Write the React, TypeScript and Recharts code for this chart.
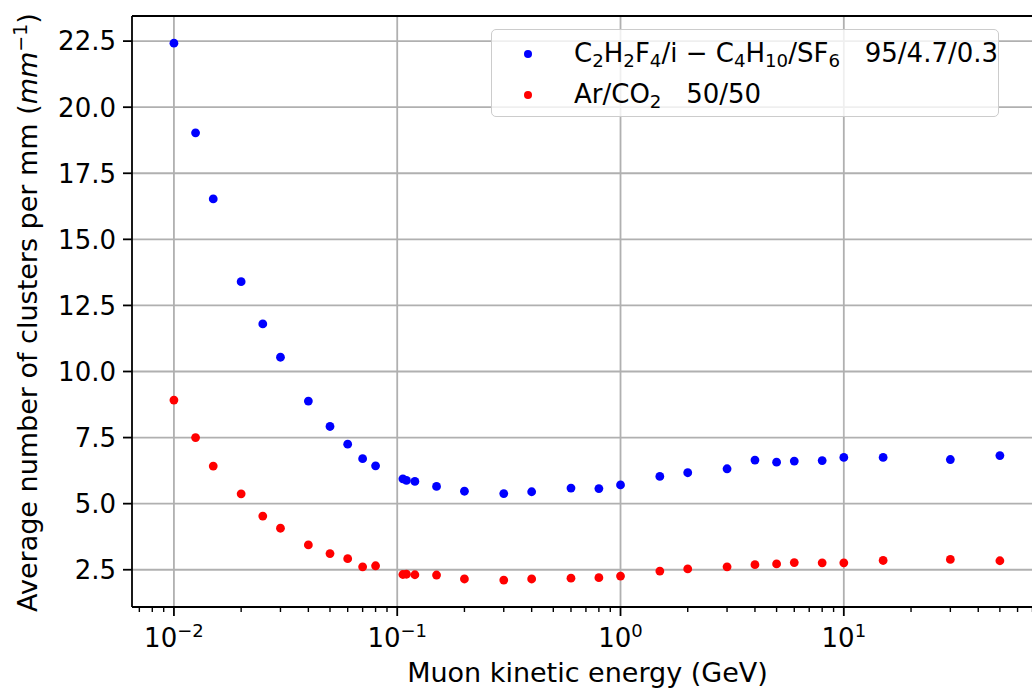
import React from "react";
import {
  ScatterChart,
  Scatter,
  XAxis,
  YAxis,
  ReferenceLine,
  Legend,
} from "recharts";

// Muon kinetic energy (GeV) of each simulated point
const ENERGY_GEV = [
  0.01, 0.0125, 0.015, 0.02, 0.025, 0.03, 0.04, 0.05, 0.06, 0.07, 0.08, 0.106,
  0.11, 0.12, 0.15, 0.2, 0.3, 0.4, 0.6, 0.8, 1, 1.5, 2, 3, 4, 5, 6, 8, 10, 15,
  30, 50,
];

// Average number of clusters per mm, C2H2F4/i-C4H10/SF6 95/4.7/0.3
const RPC_GAS_CLUSTERS = [
  22.42, 19.03, 16.53, 13.4, 11.8, 10.54, 8.88, 7.92, 7.25, 6.7, 6.43, 5.94,
  5.88, 5.84, 5.65, 5.47, 5.38, 5.45, 5.59, 5.57, 5.71, 6.03, 6.17, 6.32, 6.65,
  6.57, 6.61, 6.63, 6.75, 6.75, 6.67, 6.82,
];

// Average number of clusters per mm, Ar/CO2 50/50
const ARCO2_CLUSTERS = [
  8.92, 7.5, 6.42, 5.37, 4.53, 4.07, 3.44, 3.11, 2.92, 2.61, 2.65, 2.32, 2.33,
  2.31, 2.3, 2.15, 2.11, 2.15, 2.18, 2.2, 2.26, 2.45, 2.53, 2.61, 2.69, 2.72,
  2.77, 2.76, 2.76, 2.85, 2.89, 2.84,
];

const X_MAJOR_TICKS = [0.01, 0.1, 1, 10];
const X_MINOR_TICKS = [
  0.007, 0.008, 0.009, 0.02, 0.03, 0.04, 0.05, 0.06, 0.07, 0.08, 0.09, 0.2, 0.3,
  0.4, 0.5, 0.6, 0.7, 0.8, 0.9, 2, 3, 4, 5, 6, 7, 8, 9, 20, 30, 40, 50, 60, 70,
];
const Y_TICKS = [2.5, 5, 7.5, 10, 12.5, 15, 17.5, 20, 22.5];

const X_DOMAIN: [number, number] = [0.00649, 76.4];
const Y_DOMAIN: [number, number] = [1.09, 23.45];

const FONT = "DejaVu Sans, Verdana, sans-serif";
const BLUE = "#0000ff";
const RED = "#ff0000";
const GRID = "#b0b0b0";

const rpcData = ENERGY_GEV.map((e, i) => ({ e, n: RPC_GAS_CLUSTERS[i] }));
const arData = ENERGY_GEV.map((e, i) => ({ e, n: ARCO2_CLUSTERS[i] }));

const dot = (color: string) => (p: any) =>
  <circle cx={p.cx} cy={p.cy} r={4.4} fill={color} />;

function XTick(props: any) {
  const { x, y, payload } = props;
  const v = payload.value as number;
  const major = X_MAJOR_TICKS.includes(v);
  const exp = Math.round(Math.log10(v));
  const expText = exp < 0 ? `\u2212${-exp}` : `${exp}`;
  return (
    <g>
      <line
        x1={x}
        x2={x}
        y1={y}
        y2={y + (major ? 9 : 5)}
        stroke="#000"
        strokeWidth={major ? 1.8 : 1.4}
      />
      {major && (
        <text
          x={x}
          y={y + 40}
          textAnchor="middle"
          fontSize={26}
          fontFamily={FONT}
          fill="#000"
        >
          10
          <tspan dy={-10} fontSize={18}>
            {expText}
          </tspan>
        </text>
      )}
    </g>
  );
}

function YTick(props: any) {
  const { x, y, payload } = props;
  const v = payload.value as number;
  return (
    <g>
      <line x1={x - 9} x2={x} y1={y} y2={y} stroke="#000" strokeWidth={1.8} />
      <text
        x={x - 16}
        y={y}
        dy="0.36em"
        textAnchor="end"
        fontSize={26}
        fontFamily={FONT}
        fill="#000"
      >
        {v.toFixed(1)}
      </text>
    </g>
  );
}

const sub = (s: string) => (
  <span style={{ fontSize: "0.7em", position: "relative", top: "0.28em" }}>
    {s}
  </span>
);

function LegendBox() {
  const row: React.CSSProperties = {
    position: "absolute",
    left: 0,
    height: 40,
    width: "100%",
    display: "flex",
    alignItems: "center",
  };
  const marker = (color: string): React.CSSProperties => ({
    position: "absolute",
    left: 32,
    width: 8,
    height: 8,
    borderRadius: "50%",
    background: color,
  });
  const label: React.CSSProperties = {
    position: "absolute",
    left: 82,
    whiteSpace: "pre",
    lineHeight: "40px",
  };
  return (
    <div
      style={{
        position: "relative",
        width: 508,
        height: 88,
        boxSizing: "border-box",
        border: "1.6px solid #cccccc",
        borderRadius: 5,
        background: "rgba(255,255,255,0.8)",
        fontFamily: FONT,
        fontSize: 26,
        color: "#000",
      }}
    >
      <div style={{ ...row, top: 4 }}>
        <div style={marker(BLUE)} />
        <div style={label}>
          C{sub("2")}H{sub("2")}F{sub("4")}/i − C{sub("4")}H{sub("10")}/SF
          {sub("6")}
          {"   95/4.7/0.3"}
        </div>
      </div>
      <div style={{ ...row, top: 45 }}>
        <div style={marker(RED)} />
        <div style={label}>
          Ar/CO{sub("2")}
          {"   50/50"}
        </div>
      </div>
    </div>
  );
}

export default function App() {
  return (
    <div
      style={{
        position: "fixed",
        left: 0,
        top: 0,
        width: 1032,
        height: 690,
        overflow: "hidden",
        background: "#fff",
      }}
    >
      <ScatterChart
        width={1060}
        height={690}
        margin={{ top: 16, right: 19, bottom: 0, left: 0 }}
      >
        <XAxis
          dataKey="e"
          type="number"
          scale="log"
          domain={X_DOMAIN}
          allowDataOverflow
          ticks={[...X_MAJOR_TICKS, ...X_MINOR_TICKS]}
          interval={0}
          tickSize={0}
          tickMargin={0}
          tick={<XTick />}
          height={83}
          axisLine={{ stroke: "#000", strokeWidth: 1.8 }}
          label={(p: any) => {
            const vb = p.viewBox;
            return (
              <text
                x={vb.x + vb.width / 2 + 1}
                y={682}
                textAnchor="middle"
                fontSize={27}
                fontFamily={FONT}
                fill="#000"
              >
                Muon kinetic energy (GeV)
              </text>
            );
          }}
        />
        <YAxis
          dataKey="n"
          type="number"
          domain={Y_DOMAIN}
          allowDataOverflow
          ticks={Y_TICKS}
          interval={0}
          tickSize={0}
          tickMargin={0}
          tick={<YTick />}
          width={132}
          axisLine={{ stroke: "#000", strokeWidth: 1.8 }}
          label={(p: any) => {
            const vb = p.viewBox;
            const cy = vb.y + vb.height / 2 + 1;
            return (
              <text
                transform={`translate(37, ${cy}) rotate(-90)`}
                textAnchor="middle"
                fontSize={27}
                fontFamily={FONT}
                fill="#000"
              >
                Average number of clusters per mm (
                <tspan fontStyle="italic">mm</tspan>
                <tspan dy={-10} fontSize={19}>
                  −1
                </tspan>
                <tspan dy={10}>)</tspan>
              </text>
            );
          }}
        />
        <Scatter
          data={rpcData}
          fill={BLUE}
          shape={dot(BLUE)}
          isAnimationActive={false}
        />
        <Scatter
          data={arData}
          fill={RED}
          shape={dot(RED)}
          isAnimationActive={false}
        />
        {X_MAJOR_TICKS.map((v) => (
          <ReferenceLine
            key={`gx${v}`}
            x={v}
            stroke={GRID}
            strokeWidth={1.8}
          />
        ))}
        {Y_TICKS.map((v) => (
          <ReferenceLine
            key={`gy${v}`}
            y={v}
            stroke={GRID}
            strokeWidth={1.8}
          />
        ))}
        <ReferenceLine y={Y_DOMAIN[1]} stroke="#000" strokeWidth={1.8} />
        <Legend
          layout="vertical"
          align="center"
          verticalAlign="middle"
          wrapperStyle={{ left: 491, top: 29, width: 508, height: 88 }}
          content={() => <LegendBox />}
        />
      </ScatterChart>
    </div>
  );
}
